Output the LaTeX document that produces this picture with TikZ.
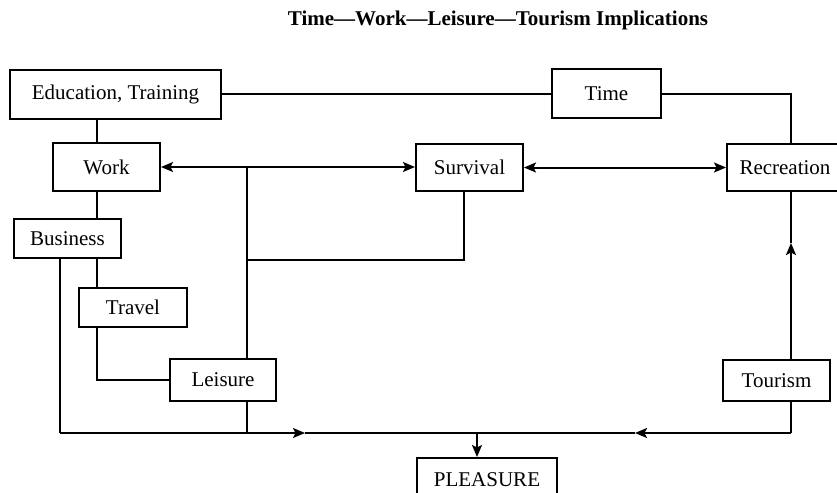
\documentclass[tikz,border=0pt]{standalone}
\usepackage{fontspec}
\setmainfont{Liberation Serif}
\usetikzlibrary{arrows.meta}

\begin{document}
\begin{tikzpicture}[x=0.5pt,y=-0.5pt,>={Stealth[length=6pt,width=5pt,inset=1.2pt]},line width=1pt,
                    every node/.style={font=\fontsize{10.5}{12}\selectfont},
                    box/.style={draw,rectangle,inner sep=0pt}]
                    \useasboundingbox (0,0) rectangle (837,493);
                    \node[font=\fontsize{10.5}{12}\selectfont\bfseries] (title) at (498,20) {Time—Work—Leisure—Tourism Implications};
                    % boxes
                    \node[box,minimum width=105.5pt,minimum height=24.5pt] (edu) at (115.5,94) {Education, Training};
                    \node[box,minimum width=53.5pt,minimum height=24pt] (work) at (106.5,167) {Work};
                    \node[box,minimum width=53.5pt,minimum height=19.5pt] (business) at (67.5,238.5) {Business};
                    \node[box,minimum width=54pt,minimum height=19.5pt] (travel) at (133,307.5) {Travel};
                    \node[box,minimum width=53pt,minimum height=21pt] (leisure) at (223,380) {Leisure};
                    \node[box,minimum width=54.5pt,minimum height=24.5pt] (time) at (606.5,93.5) {Time};
                    \node[box,minimum width=53.5pt,minimum height=23.5pt] (survival) at (469.5,167.5) {Survival};
                    \node[box,minimum width=58pt,minimum height=23.5pt] (recreation) at (785,167.5) {Recreation};
                    \node[box,minimum width=53.5pt,minimum height=20.5pt] (tourism) at (776.5,380.5) {Tourism};
                    \node[box,minimum width=70pt,minimum height=22pt] (pleasure) at (487,480) {PLEASURE};
                    % line positions
                    \coordinate (spine) at (97,0);
                    \coordinate (lx) at (247,0);
                    \coordinate (sx) at (464,0);
                    \coordinate (rx) at (791,0);
                    \coordinate (bl) at (60,433);
                    \coordinate (br) at (791,433);
                    \coordinate (drop) at (477,433);
                    \coordinate (mr) at (305,433);
                    \coordinate (ml) at (635,433);
                    \coordinate (mu) at (791,243);
                    \coordinate (loop) at (247,260);
                    % top
                    \draw (edu.east) -- (edu.east -| time.west);
                    \draw (time.east) -| (recreation.north -| rx);
                    \foreach \a/\b in {edu/work,work/business,business/travel}{
                      \draw (\a.south -| spine) -- (\b.north -| spine);
                    }
                    \draw (travel.south -| spine) |- (leisure.west);
                    % middle
                    \draw[<->] (work.east) -- (work.east -| survival.west);
                    \draw[<->] (survival.east) -- (survival.east -| recreation.west);
                    \draw (lx |- work.east) -- (leisure.north -| lx);
                    \draw (loop) -| (survival.south -| sx);
                    \draw[->] (tourism.north -| rx) -- (mu);
                    \draw (mu) -- (recreation.south -| rx);
                    % bottom
                    \draw (business.south -| bl) -- (bl);
                    \draw (leisure.south -| lx) -- (lx |- bl);
                    \draw[->] (bl) -- (mr);
                    \draw (mr) -- (ml);
                    \draw (tourism.south -| br) -- (br);
                    \draw[->] (br) -- (ml);
                    \draw[->] (drop) -- (pleasure.north -| drop);
                  \end{tikzpicture}
\end{document}
